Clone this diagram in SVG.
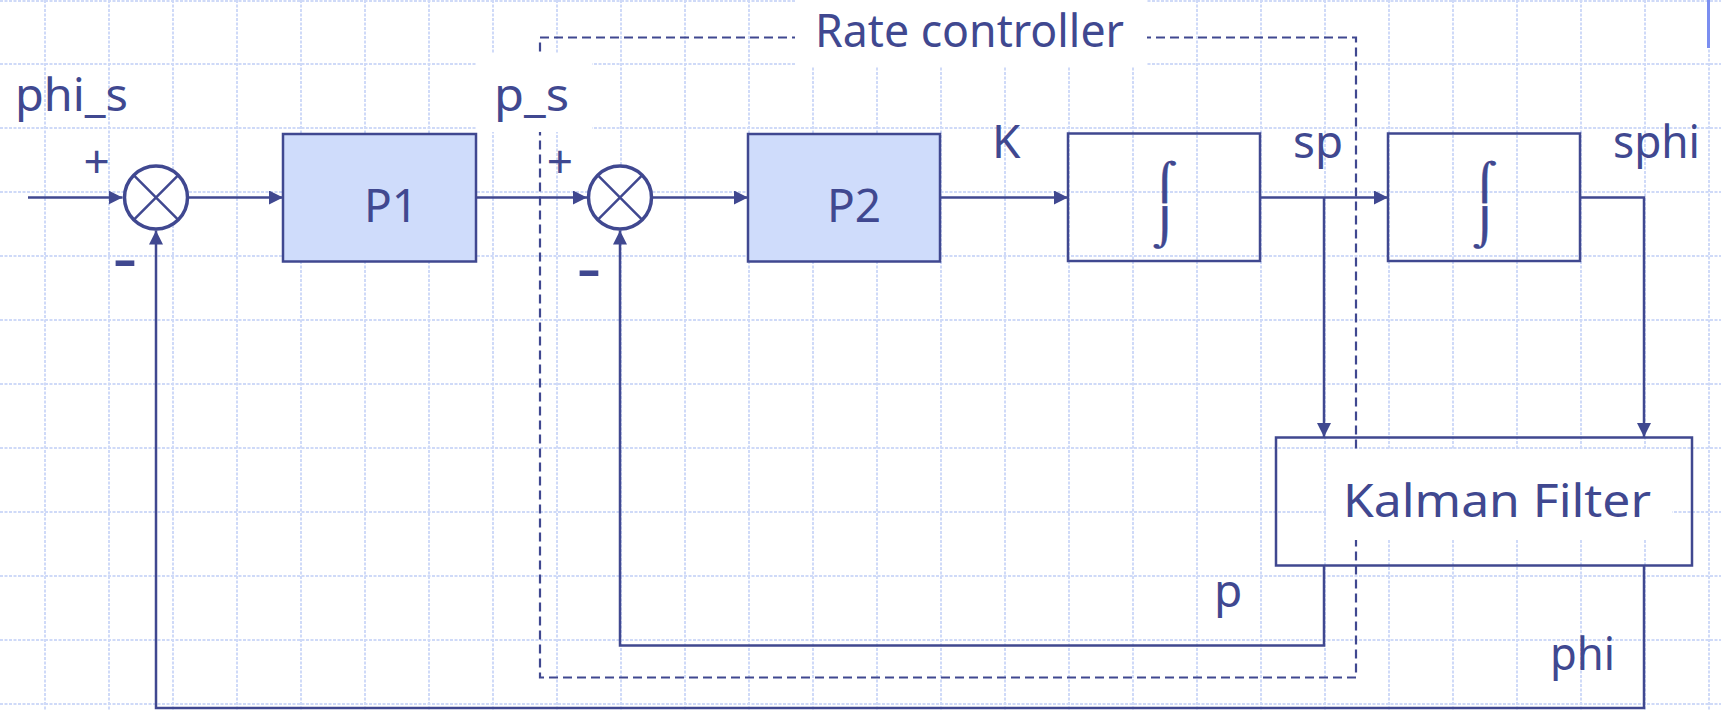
<svg xmlns="http://www.w3.org/2000/svg" width="1721" height="710" viewBox="0 0 1721 710">
<style>
.grid{fill:none;stroke:#cfdaf8;stroke-width:2;stroke-dasharray:3 1.5}
.ln{fill:none;stroke:#404890;stroke-width:2.5}
.box{stroke:#404890;stroke-width:2.5}
.t{font-family:"Noto Sans","Open Sans",sans-serif;fill:#404890;font-size:46px}
.sum{fill:#fff;stroke:#404890;stroke-width:3.5}
.dash{fill:none;stroke:#404890;stroke-width:2.2;stroke-dasharray:9 5}
.int{font-family:"DejaVu Sans",sans-serif;fill:#404890;stroke:#404890;stroke-width:0.3;font-size:36px}
.mn{font-family:"Liberation Sans",sans-serif;font-weight:bold;fill:#404890;font-size:46px}
</style>
<defs>
<marker id="ah" viewBox="0 0 14 14" refX="14" refY="7" markerWidth="14" markerHeight="14" markerUnits="userSpaceOnUse" orient="auto"><path d="M0,0L14,7L0,14Z" fill="#404890"/></marker>
</defs>
<rect width="1721" height="710" fill="#fff"/>
<g id="grid">
<path class="grid" d="M45,0V710M109,0V710M173,0V710M237,0V710M301,0V710M365,0V710M429,0V710M493,0V710M557,0V710M621,0V710M685,0V710M749,0V710M813,0V710M877,0V710M941,0V710M1005,0V710M1069,0V710M1133,0V710M1197,0V710M1261,0V710M1325,0V710M1389,0V710M1453,0V710M1517,0V710M1581,0V710M1645,0V710M1709,0V710M0,1H1721M0,64H1721M0,128H1721M0,192H1721M0,256H1721M0,320H1721M0,384H1721M0,448H1721M0,512H1721M0,576H1721M0,640H1721M0,704H1721"/>
<rect x="1707" y="0" width="3" height="48" fill="#7b8ef0"/>
</g>
<g id="rate-controller">
<rect class="dash" x="540" y="37.5" width="816" height="640"/>
<rect x="795" y="0" width="352" height="66" fill="#fff"/>
<text class="t" x="815" y="46.7" textLength="309" lengthAdjust="spacingAndGlyphs">Rate controller</text>
</g>
<g id="label-ps">
<rect x="477" y="53" width="115" height="79" fill="#fff"/>
<text class="t" x="494" y="111" textLength="75" lengthAdjust="spacingAndGlyphs">p_s</text>
</g>
<g id="connectors">
<path class="ln" d="M28,197.5H122.5" marker-end="url(#ah)"/>
<path class="ln" d="M189,197.5H283" marker-end="url(#ah)"/>
<path class="ln" d="M476,197.5H587" marker-end="url(#ah)"/>
<path class="ln" d="M653,197.5H748" marker-end="url(#ah)"/>
<path class="ln" d="M940,197.5H1068" marker-end="url(#ah)"/>
<path class="ln" d="M1260,197.5H1388" marker-end="url(#ah)"/>
<path class="ln" d="M1324,197.5V437" marker-end="url(#ah)"/>
<path class="ln" d="M1580,197.5H1644V437" marker-end="url(#ah)"/>
<path class="ln" d="M1324,566V645.5H620V230.5" marker-end="url(#ah)"/>
<path class="ln" d="M1644,566V708H156V230.5" marker-end="url(#ah)"/>
</g>
<g id="sum1">
<circle class="sum" cx="156" cy="197.5" r="31.5"/>
<path class="ln" stroke-width="3.5" d="M133.7,175.2L178.3,219.8M178.3,175.2L133.7,219.8"/>
<text class="t" x="96.7" y="177.5" font-size="40" text-anchor="middle">+</text>
<text class="mn" transform="translate(125,274.7) scale(1.6,1)" text-anchor="middle">-</text>
</g>
<g id="sum2">
<circle class="sum" cx="620" cy="197.5" r="31.5"/>
<path class="ln" stroke-width="3.5" d="M597.7,175.2L642.3,219.8M642.3,175.2L597.7,219.8"/>
<text class="t" x="560" y="177.5" font-size="40" text-anchor="middle">+</text>
<text class="mn" transform="translate(589,284.7) scale(1.6,1)" text-anchor="middle">-</text>
</g>
<g id="P1">
<rect class="box" x="283" y="134" width="193" height="127.5" fill="#cfdcfb"/>
<text class="t" x="364" y="222.3">P1</text>
</g>
<g id="P2">
<rect class="box" x="748" y="134" width="192" height="127.5" fill="#cfdcfb"/>
<text class="t" x="827" y="222.3">P2</text>
</g>
<g id="int1">
<rect class="box" x="1068" y="133.5" width="192" height="127.5" fill="none"/>
<text class="int" transform="translate(1165,0) scale(1.3,1)" x="0" y="194" text-anchor="middle">⌠</text>
<text class="int" transform="translate(1165,0) scale(1.3,1)" x="0" y="240" text-anchor="middle">⌡</text>
</g>
<g id="int2">
<rect class="box" x="1388" y="133.5" width="192" height="127.5" fill="none"/>
<text class="int" transform="translate(1485,0) scale(1.3,1)" x="0" y="194" text-anchor="middle">⌠</text>
<text class="int" transform="translate(1485,0) scale(1.3,1)" x="0" y="240" text-anchor="middle">⌡</text>
</g>
<g id="kalman">
<rect class="box" x="1276" y="437.5" width="416" height="128" fill="none"/>
<rect x="1327" y="450" width="345" height="90" fill="#fff"/>
<text class="t" x="1343" y="516.7" font-size="53" textLength="308" lengthAdjust="spacingAndGlyphs">Kalman Filter</text>
</g>
<g id="labels">
<text class="t" x="15" y="111" textLength="113" lengthAdjust="spacingAndGlyphs">phi_s</text>
<text class="t" x="992" y="158.3">K</text>
<text class="t" x="1293" y="158.3" textLength="50" lengthAdjust="spacingAndGlyphs">sp</text>
<text class="t" x="1613" y="158.3" textLength="87" lengthAdjust="spacingAndGlyphs">sphi</text>
<text class="t" x="1214" y="607">p</text>
<text class="t" x="1550" y="670" textLength="65" lengthAdjust="spacingAndGlyphs">phi</text>
</g>
</svg>
